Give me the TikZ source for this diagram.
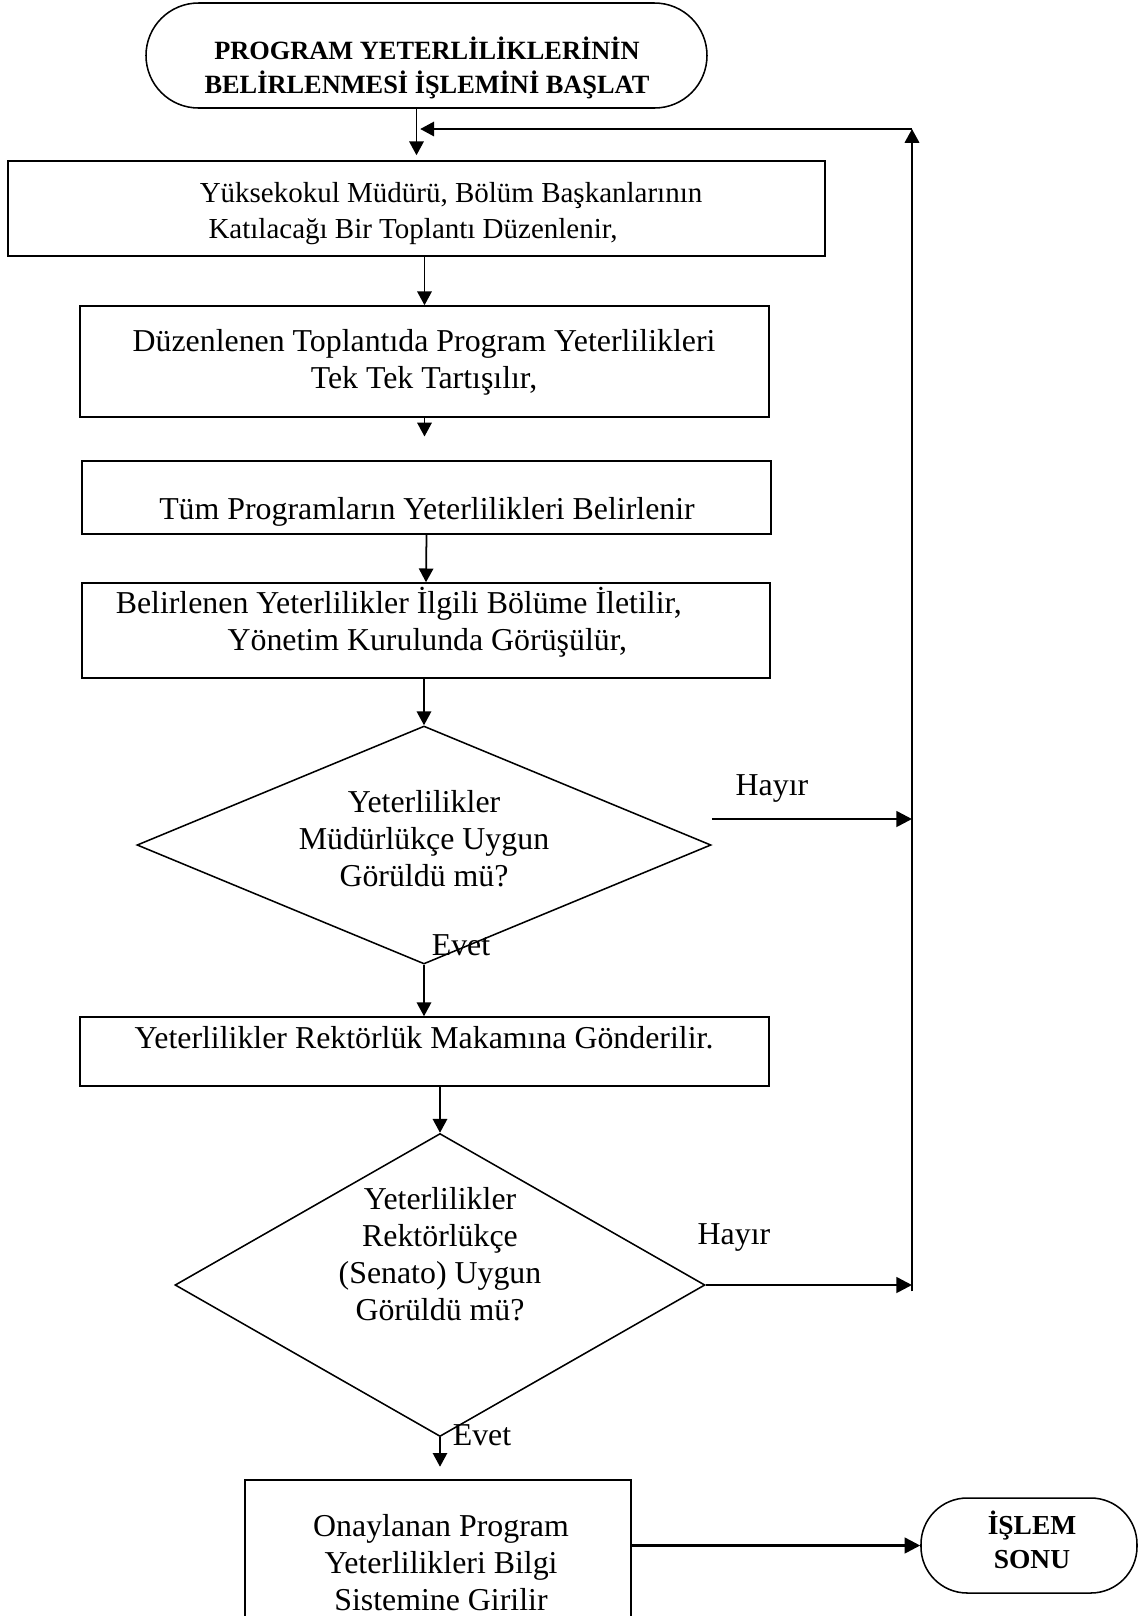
\documentclass[tikz,border=0pt]{standalone}
\usepackage{fontspec}
\setmainfont{Liberation Serif}
\usetikzlibrary{shapes.geometric,arrows.meta}

\begin{document}
\begin{tikzpicture}[>={Triangle[length=0.22cm,width=0.23cm]}, line width=0.7pt,
  box/.style={draw, rectangle, inner sep=0pt},
  term/.style={draw, rectangle, rounded corners=#1, inner sep=0pt}, term/.default=0.8cm,
  dec/.style={draw, diamond, inner sep=0pt},
  txt/.style={align=center, inner sep=0pt, font=\fontsize{14.5}{16.8}\selectfont},
  btxt/.style={align=center, inner sep=0pt, font=\fontsize{12}{15.2}\selectfont\bfseries},
  harr/.style={->, >={Triangle[length=0.25cm,width=0.25cm]}, line width=1.2pt}]

\useasboundingbox (0,0) rectangle (18.32,-25.856);

\node[term=0.84cm, minimum width=8.976cm, minimum height=1.68cm] (start) at (6.824,-0.888) {};
\node[btxt] (tstart) at (6.832,-1.088) {PROGRAM YETERLİLİKLERİNİN\\BELİRLENMESİ İŞLEMİNİ BAŞLAT};

\node[box, minimum width=13.072cm, minimum height=1.52cm] (b1) at (6.664,-3.336) {};
\node[txt, align=left, anchor=west, font=\fontsize{13.2}{16.4}\selectfont] (t1) at (3.184,-3.424)
  {Yüksekokul Müdürü, Bölüm Başkanlarının\\\hspace*{0.14cm}Katılacağı Bir Toplantı Düzenlenir,};

\node[box, minimum width=11.024cm, minimum height=1.776cm] (b2) at (6.792,-5.784) {};
\node[txt] (t2) at (6.784,-5.792) {Düzenlenen Toplantıda Program Yeterlilikleri\\Tek Tek Tartışılır,};

\node[box, minimum width=11.024cm, minimum height=1.168cm] (b3) at (6.824,-7.96) {};
\node[txt] (t3) at (6.832,-8.192) {Tüm Programların Yeterlilikleri Belirlenir};

\node[box, minimum width=11.008cm, minimum height=1.52cm] (b4) at (6.816,-10.088) {};
\node[txt, align=left, anchor=west] (t4) at (1.84,-9.96)
  {Belirlenen Yeterlilikler İlgili Bölüme İletilir,\\\hspace*{1.79cm}Yönetim Kurulunda Görüşülür,};

\node[dec, minimum width=9.184cm, minimum height=3.808cm] (d1) at (6.784,-13.52) {};
\node[txt] (td1) at (6.784,-13.424) {Yeterlilikler\\Müdürlükçe Uygun\\Görüldü mü?};
\node[txt] (e1) at (7.376,-15.12) {Evet};
\node[txt] (h1) at (12.352,-12.608) {Hayır};

\node[box, minimum width=11.024cm, minimum height=1.104cm] (b5) at (6.792,-16.824) {};
\node[txt] (t5) at (6.784,-16.608) {Yeterlilikler Rektörlük Makamına Gönderilir.};

\node[dec, minimum width=8.48cm, minimum height=4.848cm] (d2) at (7.04,-20.56) {};
\node[txt] (td2) at (7.04,-20.064) {Yeterlilikler\\Rektörlükçe\\(Senato) Uygun\\Görüldü mü?};
\node[txt] (e2) at (7.712,-22.96) {Evet};
\node[txt] (h2) at (11.744,-19.792) {Hayır};

\node[box, minimum width=6.176cm, minimum height=2.42cm] (b6) at (7.008,-24.89) {};
\node[txt] (t6) at (7.056,-25.0) {Onaylanan Program\\Yeterlilikleri Bilgi\\Sistemine Girilir};

\node[term=0.74cm, minimum width=3.456cm, minimum height=1.52cm] (stop) at (16.464,-24.728) {};
\node[btxt, font=\fontsize{12.5}{15.6}\selectfont\bfseries] (tstop) at (16.512,-24.64) {İŞLEM\\SONU};

\coordinate (fbtop) at (14.592,-2.064);
\coordinate (fbbot) at (14.592,-20.66);

\draw[->, line width=0.8pt] (b1.north |- start.south) -- ([yshift=0.08cm]b1.north);
\draw[->, line width=0.8pt] (fbtop) -- ([xshift=0.06cm]b1.north |- fbtop);
\draw[->, line width=1pt] (fbbot) -- (fbtop);
\draw[->, line width=0.8pt] (b2.north |- b1.south) -- (b2.north);
\draw[->, line width=0.8pt] (b2.south) -- ([yshift=0.38cm]b3.north -| b2.south);
\draw[->, line width=0.8pt] (b3.south) -- (b4.north);
\draw[->, line width=0.8pt] (b4.south -| d1.north) -- (d1.north);
\draw[->, line width=0.8pt] (d1.south) -- (d1.south |- b5.north);
\draw[harr] ([yshift=0.416cm]d1.east) -- ([yshift=0.416cm]d1.east -| fbtop);
\draw[->, line width=0.8pt] (d2.north |- b5.south) -- (d2.north);
\draw[harr] (d2.east) -- (d2.east -| fbtop);
\draw[->, line width=0.8pt] (d2.south) -- ([yshift=0.2cm]d2.south |- b6.north);
\draw[harr] (b6.east |- stop.west) -- (stop.west);

\end{tikzpicture}
\end{document}
